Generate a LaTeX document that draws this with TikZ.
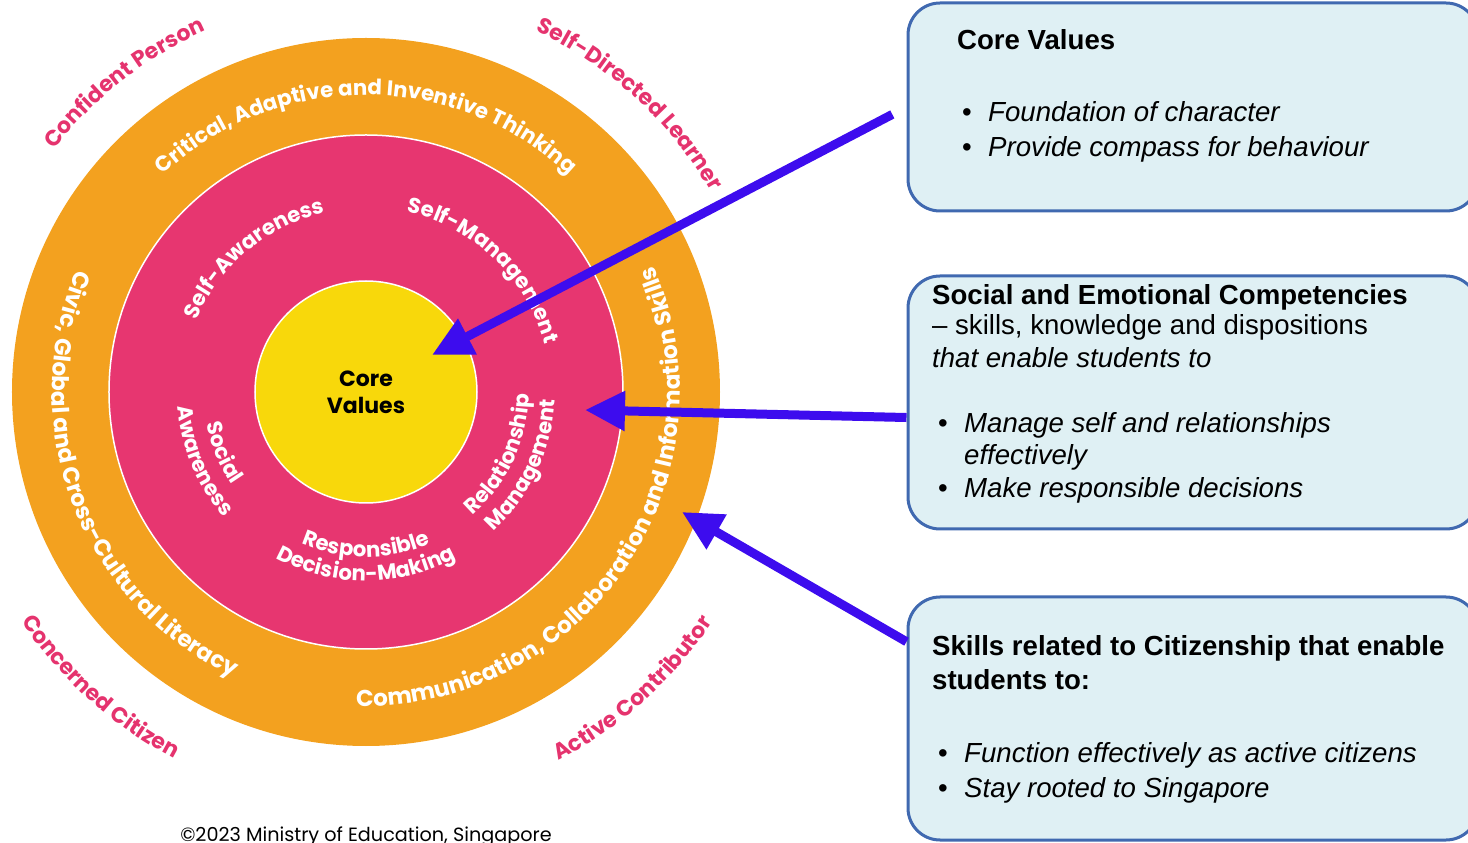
\documentclass[tikz,border=0pt]{standalone}
\usepackage{fontspec}
\setmainfont{Liberation Sans}
\newfontfamily\ringfont{Poppins}
\usetikzlibrary{arrows.meta,decorations.text}

\definecolor{ringorange}{HTML}{F3A11F}
\definecolor{ringpink}{HTML}{E73670}
\definecolor{outerpink}{HTML}{E5336E}
\definecolor{coreyellow}{HTML}{F8D80B}
\definecolor{arrowblue}{HTML}{3D0CEE}
\definecolor{boxblue}{HTML}{4069B0}
\definecolor{boxfill}{HTML}{DFF0F4}

\newcommand\outerfont{\ringfont\bfseries\fontsize{22}{22}\selectfont}
\newcommand\bandfont{\ringfont\bfseries\fontsize{21.3}{21.3}\selectfont}
\newcommand\sidefont{\ringfont\bfseries\fontsize{23}{23}\selectfont}

\tikzset{
  infobox/.style={draw=boxblue, line width=3pt, fill=boxfill, rounded corners=32pt, inner sep=0pt},
  boxtext/.style={anchor=base west, inner sep=0pt, font=\fontsize{27.6}{35}\selectfont},
  pointer/.style={draw=arrowblue, line width=9pt, -{Triangle[length=40pt,width=38pt]}},
  arctext/.style={decorate, decoration={text along path, text align=center, text color=#1}},
}

\begin{document}
\begin{tikzpicture}[x=1pt,y=1pt]
  \useasboundingbox (-366,-451) rectangle (1102,392);
  \clip (-366,-451) rectangle (1102,392);

  % 円
  \fill[ringorange] (0,0) circle[radius=354];
  \draw[white, line width=1.5pt, fill=ringpink] (0,0) circle[radius=257];
  \draw[white, line width=1.5pt, fill=coreyellow] (0,0) circle[radius=111];
  \node[font=\ringfont\bfseries\fontsize{22}{27}\selectfont, align=center] (corelabel) at (0,0) {Core\\Values};

  % 外側の文字
  \path[arctext=outerpink, decoration={text={|\outerfont|Confident Person}}] (158:395) arc[start angle=158, end angle=98, radius=395];
  \path[arctext=outerpink, decoration={text={|\outerfont|Self-Directed Learner}}] (77.5:399) arc[start angle=77.5, end angle=17.5, radius=399];
  \path[arctext=outerpink, decoration={text={|\outerfont|Concerned Citizen}}] (198:414) arc[start angle=198, end angle=258, radius=414];
  \path[arctext=outerpink, decoration={text={|\outerfont|Active Contributor}}] (282:416) arc[start angle=282, end angle=342, radius=416];

  % オレンジの輪
  \path[arctext=white, decoration={text={|\bandfont|Critical, Adaptive and Inventive Thinking}}] (150:297) arc[start angle=150, end angle=30, radius=297];
  \path[arctext=white, decoration={text={|\sidefont|Civic, Global and Cross-Cultural Literacy}}] (141:314) arc[start angle=141, end angle=261, radius=314];
  \path[arctext=white, decoration={text={|\sidefont|Communication, Collaboration and Information Skills}}] (256:314) arc[start angle=256, end angle=396, radius=314];

  % ピンクの輪
  \path[arctext=white, decoration={text={|\bandfont|Self-Awareness}}] (170:184) arc[start angle=170, end angle=90, radius=184];
  \path[arctext=white, decoration={text={|\bandfont|Self-Management}}] (86:185) arc[start angle=86, end angle=6, radius=185];
  \path[arctext=white, decoration={text={|\bandfont|Social}}] (163:163) arc[start angle=163, end angle=243, radius=163];
  \path[arctext=white, decoration={text={|\bandfont|Awareness}}] (163:189) arc[start angle=163, end angle=243, radius=189];
  \path[arctext=white, decoration={text={|\bandfont|Responsible}}] (230:165) arc[start angle=230, end angle=310, radius=165];
  \path[arctext=white, decoration={text={|\bandfont|Decision-Making}}] (230:189) arc[start angle=230, end angle=310, radius=189];
  \path[arctext=white, decoration={text={|\bandfont|Relationship}}] (295:163) arc[start angle=295, end angle=375, radius=163];
  \path[arctext=white, decoration={text={|\bandfont|Management}}] (295:189) arc[start angle=295, end angle=375, radius=189];

  \node[anchor=base, inner sep=0pt, font=\ringfont\fontsize{19.2}{22}\selectfont] (mocnote) at (0,-449) {©2023 Ministry of Education, Singapore};

  % 説明の枠
  \node[infobox, minimum width=570pt, minimum height=208pt] (cvbox) at (827,285) {};
  \node[infobox, minimum width=570pt, minimum height=253pt] (secbox) at (827,-10.5) {};
  \node[infobox, minimum width=570pt, minimum height=243pt] (citbox) at (827,-326.5) {};

  \node[boxtext] (cvhead) at (591,342) {\bfseries Core Values};
  \node[boxtext] (cvitema) at (596,270) {\makebox[26pt][l]{\textbullet}\itshape Foundation of character};
  \node[boxtext] (cvitemb) at (596,235) {\makebox[26pt][l]{\textbullet}\itshape Provide compass for behaviour};

  \node[boxtext] (sechead) at (566,87) {\bfseries Social and Emotional Competencies};
  \node[boxtext] (seclinea) at (566,57) {– skills, knowledge and dispositions};
  \node[boxtext] (seclineb) at (566,24) {\itshape that enable students to};
  \node[boxtext] (secitema) at (572,-41) {\makebox[26pt][l]{\textbullet}\itshape Manage self and relationships};
  \node[boxtext] (secitemb) at (598,-73) {\itshape effectively};
  \node[boxtext] (secitemc) at (572,-106) {\makebox[26pt][l]{\textbullet}\itshape Make responsible decisions};

  \node[boxtext] (citheada) at (566,-263) {\bfseries Skills related to Citizenship that enable};
  \node[boxtext] (citheadb) at (566,-298) {\bfseries students to:};
  \node[boxtext] (cititema) at (572,-370) {\makebox[26pt][l]{\textbullet}\itshape Function effectively as active citizens};
  \node[boxtext] (cititemb) at (572,-405) {\makebox[26pt][l]{\textbullet}\itshape Stay rooted to Singapore};

  % 矢印
  \coordinate (cvtip) at (66,37);
  \coordinate (sectip) at (219,-18);
  \coordinate (cittip) at (316,-120);
  \draw[pointer, shorten <=16pt] (cvbox.west) -- (cvtip);
  \draw[pointer] (secbox.183) -- (sectip);
  \draw[pointer] (citbox.165) -- (cittip);
\end{tikzpicture}
\end{document}
